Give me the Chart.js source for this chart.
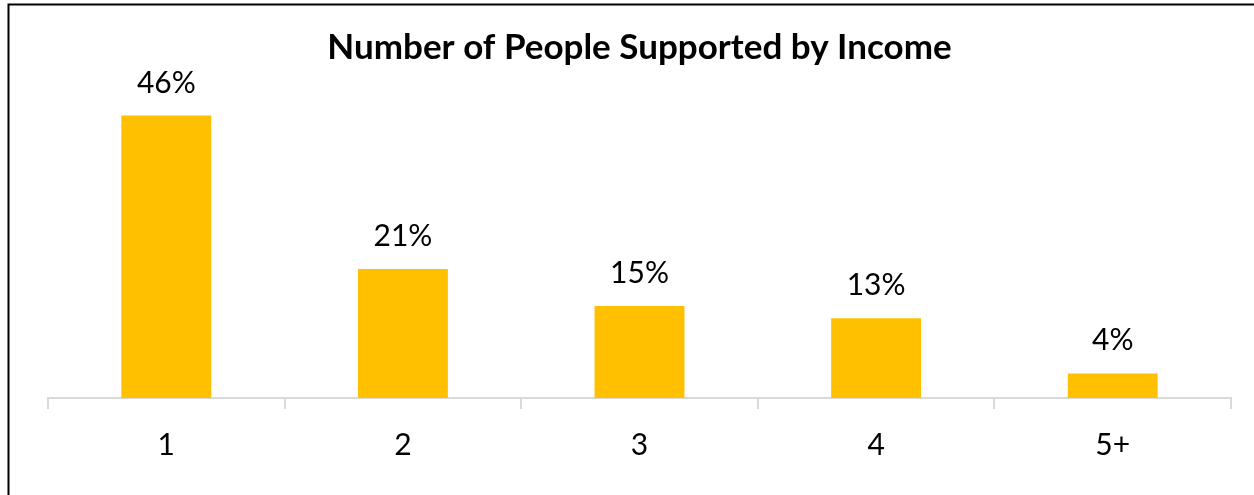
<!DOCTYPE html>
<html>
<head>
<meta charset="utf-8">
<script src="https://cdn.jsdelivr.net/npm/chart.js@4"></script>
<style>
  html, body { margin: 0; padding: 0; background: #ffffff; }
  #wrap { position: relative; width: 1254px; height: 495px; }
</style>
</head>
<body>
<div id="wrap"><canvas id="chart" width="1254" height="495"></canvas></div>
<script>
const categories = ['1', '2', '3', '4', '5+'];
const shareValues = [46, 21, 15, 13, 4];
const chartTitle = 'Number of People Supported by Income';

const FONT = "Lato, Carlito, Calibri, 'Open Sans', sans-serif";

// Frame lines along the top and left edge
const framePlugin = {
  id: 'frame',
  beforeDraw(chart) {
    const ctx = chart.ctx;
    ctx.save();
    ctx.fillStyle = '#ffffff';
    ctx.fillRect(0, 0, chart.width, chart.height);
    ctx.strokeStyle = '#000000';
    ctx.lineWidth = 2;
    ctx.beginPath();
    ctx.moveTo(8.5, chart.height);
    ctx.lineTo(8.5, 4.5);
    ctx.lineTo(chart.width, 4.5);
    ctx.stroke();
    ctx.restore();
  }
};

// Percentage labels above each bar
const valueLabelPlugin = {
  id: 'valueLabels',
  afterDatasetsDraw(chart) {
    const ctx = chart.ctx;
    const meta = chart.getDatasetMeta(0);
    ctx.save();
    ctx.fillStyle = '#000000';
    ctx.font = '30px ' + FONT;
    ctx.textAlign = 'center';
    ctx.textBaseline = 'alphabetic';
    meta.data.forEach((bar, i) => {
      ctx.fillText(shareValues[i] + '%', bar.x, bar.y - 23);
    });
    ctx.restore();
  }
};

new Chart(document.getElementById('chart'), {
  type: 'bar',
  data: {
    labels: categories,
    datasets: [{
      data: shareValues,
      backgroundColor: '#FFC000',
      borderWidth: 0,
      categoryPercentage: 1,
      barPercentage: 0.38
    }]
  },
  options: {
    responsive: false,
    animation: false,
    layout: { padding: { left: 48, right: 23, top: 0, bottom: 14 } },
    plugins: {
      legend: { display: false },
      tooltip: { enabled: false },
      title: {
        display: true,
        text: chartTitle,
        color: '#000000',
        font: { family: FONT, size: 35, weight: 'bold' },
        padding: { top: 27, bottom: 22 }
      }
    },
    scales: {
      x: {
        grid: {
          display: true,
          drawOnChartArea: false,
          drawTicks: true,
          tickLength: 11,
          color: '#d9d9d9',
          lineWidth: 2,
          offset: true
        },
        border: { display: true, color: '#d9d9d9', width: 2 },
        ticks: {
          color: '#000000',
          font: { family: FONT, size: 30 },
          padding: 18
        }
      },
      y: {
        display: false,
        min: 0,
        max: 50
      }
    }
  },
  plugins: [framePlugin, valueLabelPlugin]
});
</script>
</body>
</html>
